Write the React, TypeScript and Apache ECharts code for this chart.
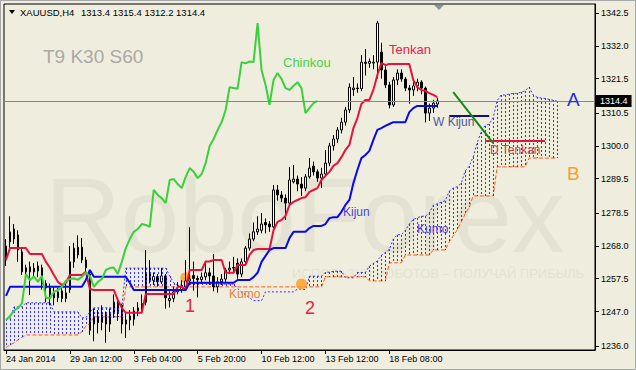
import React, { useEffect, useRef } from 'react';
import * as echarts from 'echarts';

const FONT = '"Liberation Sans", Arial, sans-serif';
const BG = '#efeede';

const SYMBOL = 'XAUUSD,H4';
const BAR_SLOTS = 148;
const X_TICK_STEP = 16;
const xTickLabels = ['24 Jan 2014', '29 Jan 12:00', '3 Feb 04:00', '5 Feb 20:00', '10 Feb 12:00', '13 Feb 12:00', '18 Feb 08:00'];
const yTickValues = [1236.0, 1247.0, 1257.5, 1268.0, 1278.5, 1289.5, 1300.0, 1310.5, 1321.5, 1332.0, 1342.5];
const Y_MIN = 1234.7;
const Y_MAX = 1345.4;
const CHINKOU_SHIFT = 30;

const opens = [
  1263.5, 1269.3, 1270.2, 1271.5, 1266.1, 1259.7, 1261.3, 1259.7, 1260.0, 1261.0,
  1256.0, 1254.6, 1253.0, 1251.4, 1253.6, 1251.2, 1254.0, 1262.9, 1265.1, 1267.6,
  1263.5, 1259.0, 1243.0, 1245.5, 1243.5, 1246.0, 1243.0, 1246.5, 1250.5, 1249.0,
  1243.0, 1244.3, 1244.5, 1247.2, 1247.5, 1250.0, 1259.0, 1257.0, 1258.2, 1256.5,
  1258.4, 1250.5, 1251.2, 1253.3, 1253.9, 1254.9, 1256.8, 1258.5, 1257.6, 1257.2,
  1258.1, 1259.4, 1258.4, 1254.9, 1256.5, 1257.4, 1260.3, 1260.9, 1262.5, 1259.0,
  1262.9, 1267.3, 1270.2, 1272.5, 1273.0, 1275.5, 1275.0, 1274.1, 1285.9, 1284.3,
  1283.3, 1281.7, 1288.5, 1289.4, 1287.8, 1286.5, 1290.1, 1293.5, 1291.7, 1289.7,
  1291.0, 1294.5, 1300.0, 1302.2, 1305.1, 1307.6, 1311.5, 1318.0, 1318.5, 1318.3,
  1326.8, 1326.4, 1326.5, 1326.8, 1330.0, 1324.3, 1319.5, 1313.1, 1321.1, 1323.3,
  1321.4, 1318.5, 1317.9, 1319.2, 1320.4, 1318.5, 1310.5, 1312.1, 1313.4,
];
const highs = [
  1270.2, 1277.5, 1275.0, 1273.0, 1267.0, 1262.0, 1263.0, 1262.5, 1263.0, 1262.0,
  1257.0, 1256.0, 1255.0, 1254.5, 1255.0, 1257.0, 1268.0, 1269.0, 1271.4, 1270.5,
  1264.5, 1260.3, 1248.0, 1247.5, 1249.0, 1247.0, 1248.0, 1252.5, 1251.5, 1249.5,
  1246.5, 1247.5, 1248.5, 1250.0, 1252.5, 1266.7, 1263.5, 1259.5, 1259.0, 1260.9,
  1259.0, 1253.5, 1255.0, 1256.5, 1257.0, 1263.5, 1274.0, 1263.0, 1258.5, 1259.5,
  1263.0, 1261.0, 1265.4, 1258.0, 1259.0, 1261.0, 1263.0, 1264.5, 1264.0, 1264.0,
  1268.0, 1272.0, 1275.5, 1277.5, 1278.5, 1276.8, 1276.0, 1287.5, 1287.5, 1285.5,
  1284.5, 1293.3, 1293.9, 1290.5, 1290.0, 1291.0, 1296.1, 1295.0, 1292.5, 1293.0,
  1298.7, 1301.0, 1303.5, 1306.0, 1309.0, 1312.5, 1320.0, 1322.0, 1320.0, 1329.1,
  1331.0, 1328.0, 1329.0, 1340.0, 1333.0, 1325.5, 1320.5, 1322.0, 1324.5, 1324.5,
  1322.0, 1319.5, 1320.5, 1321.5, 1321.0, 1319.0, 1313.5, 1314.8, 1315.4,
];
const lows = [
  1261.6, 1267.0, 1268.6, 1262.9, 1258.7, 1257.0, 1252.3, 1258.0, 1258.0, 1254.0,
  1250.0, 1249.0, 1249.0, 1250.0, 1250.0, 1250.0, 1253.0, 1261.0, 1264.0, 1262.5,
  1259.5, 1239.5, 1237.5, 1240.0, 1241.0, 1237.0, 1240.5, 1245.0, 1244.0, 1240.0,
  1238.5, 1241.0, 1242.5, 1245.5, 1246.5, 1249.0, 1256.0, 1255.5, 1255.0, 1255.8,
  1247.9, 1248.3, 1250.0, 1252.5, 1253.0, 1254.0, 1255.5, 1253.7, 1251.5, 1256.0,
  1257.0, 1255.5, 1253.5, 1253.0, 1255.5, 1256.5, 1259.0, 1259.5, 1257.5, 1258.0,
  1262.0, 1266.5, 1269.5, 1271.5, 1272.0, 1272.0, 1272.5, 1273.5, 1282.5, 1282.0,
  1276.3, 1281.0, 1288.0, 1285.5, 1284.0, 1285.5, 1289.5, 1290.5, 1288.5, 1286.5,
  1290.0, 1293.5, 1298.5, 1301.0, 1304.0, 1306.5, 1310.5, 1316.0, 1317.0, 1317.5,
  1322.5, 1325.0, 1324.5, 1321.5, 1321.5, 1318.5, 1312.0, 1312.5, 1319.5, 1320.5,
  1317.5, 1313.5, 1316.0, 1317.5, 1316.5, 1307.5, 1308.0, 1310.5, 1312.2,
];
const closes = [
  1268.0, 1272.5, 1273.4, 1266.7, 1259.7, 1261.0, 1259.7, 1260.9, 1261.6, 1255.8,
  1254.6, 1252.5, 1251.4, 1253.3, 1251.2, 1253.0, 1262.9, 1267.3, 1267.6, 1263.5,
  1261.0, 1241.0, 1245.5, 1243.5, 1246.0, 1243.0, 1246.5, 1250.0, 1247.0, 1243.0,
  1244.3, 1245.6, 1247.2, 1248.2, 1249.6, 1259.0, 1257.0, 1258.2, 1256.5, 1258.4,
  1251.4, 1251.2, 1253.3, 1253.9, 1254.9, 1256.8, 1257.4, 1257.6, 1257.2, 1258.1,
  1259.4, 1258.4, 1254.9, 1256.5, 1257.4, 1260.3, 1260.9, 1261.1, 1259.0, 1262.9,
  1267.3, 1270.2, 1272.5, 1273.4, 1275.0, 1274.7, 1274.1, 1285.9, 1284.3, 1283.3,
  1281.7, 1289.1, 1289.4, 1287.8, 1286.5, 1290.1, 1292.9, 1291.7, 1289.7, 1291.0,
  1294.5, 1300.0, 1302.2, 1305.1, 1307.6, 1311.5, 1318.8, 1318.5, 1318.3, 1326.8,
  1326.4, 1327.0, 1326.8, 1339.3, 1324.3, 1319.5, 1313.1, 1321.1, 1323.3, 1321.4,
  1318.5, 1317.9, 1319.2, 1320.4, 1318.5, 1310.5, 1312.1, 1313.7, 1314.4,
];

const tenkan = [
  1263.5, 1267.3, 1267.3, 1267.3, 1267.3, 1267.3, 1265.4, 1265.4, 1265.4, 1265.4,
  1262.9, 1261.0, 1258.7, 1256.5, 1255.5, 1256.2, 1258.7, 1258.7, 1258.7, 1258.7,
  1259.7, 1254.2, 1253.9, 1253.9, 1253.9, 1253.9, 1253.9, 1253.9, 1250.7, 1248.2,
  1246.6, 1246.6, 1246.6, 1246.6, 1246.6, 1252.6, 1252.6, 1252.6, 1252.6, 1252.6,
  1252.6, 1252.6, 1252.6, 1254.9, 1254.9, 1253.9, 1260.3, 1260.3, 1260.3, 1260.3,
  1263.0, 1263.0, 1263.5, 1263.5, 1263.5, 1259.4, 1259.4, 1259.4, 1261.9, 1261.9,
  1261.9, 1265.1, 1266.7, 1267.0, 1267.0, 1267.0, 1267.0, 1273.0, 1275.7, 1276.3,
  1277.6, 1281.1, 1282.1, 1282.7, 1283.3, 1283.6, 1285.3, 1285.9, 1286.5, 1289.1,
  1290.4, 1291.7, 1293.6, 1294.5, 1296.4, 1298.7, 1300.3, 1305.7, 1308.9, 1313.4,
  1314.7, 1314.7, 1317.9, 1322.7, 1326.5, 1325.9, 1326.2, 1326.2, 1326.2, 1326.2,
  1326.2, 1326.2, 1321.1, 1318.8, 1317.9, 1317.6, 1316.9, 1316.3, 1315.6,
];
const kijun = [
  1252.0, 1254.9, 1254.9, 1254.9, 1254.9, 1254.9, 1254.9, 1254.9, 1254.9, 1254.9,
  1254.9, 1254.9, 1254.9, 1254.9, 1254.9, 1254.9, 1254.9, 1254.9, 1254.9, 1254.9,
  1257.1, 1260.3, 1258.1, 1258.1, 1258.1, 1258.1, 1258.1, 1258.1, 1258.1, 1258.1,
  1258.1, 1256.2, 1253.9, 1253.9, 1253.9, 1253.9, 1253.9, 1253.9, 1253.9, 1253.9,
  1253.9, 1253.9, 1253.9, 1253.9, 1253.9, 1253.9, 1256.2, 1256.2, 1256.2, 1256.2,
  1256.2, 1256.2, 1256.2, 1256.2, 1256.2, 1256.2, 1256.2, 1256.2, 1257.1, 1257.1,
  1257.1, 1257.1, 1258.0, 1259.4, 1262.9, 1264.8, 1266.7, 1267.3, 1267.3, 1267.3,
  1267.3, 1270.5, 1272.5, 1272.5, 1272.5, 1272.5, 1273.7, 1274.4, 1274.4, 1274.4,
  1275.0, 1276.9, 1277.2, 1277.2, 1278.9, 1281.1, 1282.7, 1288.1, 1292.3, 1296.1,
  1297.1, 1298.4, 1301.9, 1305.1, 1305.7, 1306.4, 1307.0, 1307.6, 1307.6, 1307.6,
  1307.6, 1310.8, 1312.1, 1312.8, 1312.8, 1312.8, 1312.8, 1312.8, 1312.8,
];
const senkouA = [
  1244.5, 1244.5, 1248.5, 1248.5, 1248.5, 1249.8, 1249.8, 1249.8, 1249.8, 1249.8,
  1249.8, 1249.8, 1246.9, 1246.9, 1246.9, 1246.9, 1246.9, 1246.9, 1246.9, 1245.0,
  1245.0, 1246.9, 1248.2, 1248.2, 1248.2, 1248.2, 1248.2, 1248.2, 1248.2, 1248.2,
  1260.9, 1260.9, 1260.9, 1260.9, 1260.9, 1260.9, 1260.9, 1260.9, 1260.9, 1260.9,
  1260.9, 1258.4, 1256.2, 1255.5, 1255.5, 1256.0, 1256.0, 1256.0, 1256.0, 1256.0,
  1256.0, 1256.0, 1255.8, 1255.8, 1255.8, 1255.8, 1255.8, 1255.8, 1254.4, 1253.2,
  1252.4, 1251.4, 1250.5, 1250.5, 1250.5, 1253.3, 1253.3, 1253.3, 1253.3, 1253.3,
  1253.3, 1253.3, 1253.3, 1254.2, 1254.2, 1254.0, 1258.3, 1258.3, 1258.3, 1258.3,
  1259.6, 1259.6, 1259.9, 1259.9, 1259.9, 1257.8, 1257.8, 1257.8, 1259.5, 1259.5,
  1259.5, 1261.5, 1262.4, 1263.2, 1265.0, 1265.9, 1266.9, 1270.2, 1271.6, 1271.6,
  1273.0, 1275.0, 1276.5, 1277.0, 1277.5, 1277.5, 1278.5, 1281.0, 1281.5, 1282.0,
  1282.5, 1285.5, 1286.5, 1287.0, 1288.0, 1292.0, 1293.5, 1296.5, 1301.0, 1304.5,
  1306.5, 1307.0, 1309.0, 1314.5, 1316.3, 1316.3, 1316.6, 1316.8, 1316.8, 1317.2,
  1317.6, 1318.8, 1316.3, 1315.6, 1315.3, 1315.2, 1314.9, 1314.6, 1314.3,
];
const senkouB = [
  1235.5, 1236.3, 1237.0, 1237.9, 1238.8, 1239.5, 1239.5, 1239.5, 1239.5, 1239.5,
  1239.5, 1239.5, 1239.5, 1239.5, 1239.5, 1239.5, 1239.5, 1239.5, 1239.5, 1240.5,
  1242.4, 1243.0, 1245.3, 1245.3, 1245.3, 1245.3, 1245.3, 1245.3, 1245.3, 1245.3,
  1254.9, 1254.9, 1254.9, 1254.9, 1254.9, 1254.9, 1254.9, 1254.9, 1254.9, 1254.9,
  1254.9, 1254.9, 1254.9, 1254.9, 1254.9, 1254.9, 1254.9, 1254.9, 1254.9, 1254.9,
  1254.9, 1254.9, 1254.9, 1254.9, 1254.9, 1254.9, 1254.9, 1254.9, 1254.9, 1254.9,
  1254.9, 1254.9, 1254.9, 1254.9, 1254.9, 1254.9, 1254.9, 1254.9, 1254.9, 1254.9,
  1254.9, 1254.9, 1254.9, 1254.9, 1254.9, 1254.9, 1254.9, 1254.9, 1254.9, 1254.9,
  1258.1, 1258.1, 1258.1, 1258.1, 1258.1, 1258.1, 1258.1, 1258.1, 1258.1, 1258.1,
  1258.1, 1256.8, 1256.8, 1256.8, 1256.8, 1256.8, 1262.6, 1262.6, 1262.6, 1262.6,
  1265.1, 1265.1, 1265.1, 1265.1, 1265.1, 1265.1, 1265.1, 1266.7, 1266.7, 1266.7,
  1266.7, 1269.3, 1271.2, 1273.1, 1275.7, 1278.2, 1280.5, 1284.0, 1284.0, 1284.0,
  1284.0, 1284.0, 1284.0, 1293.3, 1293.3, 1293.3, 1293.3, 1293.3, 1293.3, 1293.3,
  1293.3, 1296.1, 1296.1, 1296.1, 1296.1, 1296.1, 1296.1, 1296.1, 1296.1,
];

// hand-drawn objects: [barIndex, price]
const wKijunLine = [[111, 1309.6], [121, 1309.6]];
const dTenkanLine = [[120, 1301.6], [135, 1301.6]];
const trendLine = [[112, 1317.2], [122, 1300.9]];
const signal1 = [[45, 1257.8]];
const signal2 = [[74, 1255.8]];

export default function App() {
  const ref = useRef<HTMLDivElement>(null);
  useEffect(() => {
    const chart = echarts.init(ref.current as HTMLDivElement, null, { renderer: 'svg' });
    const categories = Array.from({ length: BAR_SLOTS }, (_, i) => String(i));
    const candleData = opens.map((o, i) => [o, closes[i], lows[i], highs[i]]);
    const chinkou = closes.slice(CHINKOU_SHIFT);
    const hatch = senkouA.map((a, i) => [i, a, senkouB[i]]).filter((d) => d[1] > d[2]);
    const last = closes.length - 1;
    const lastClose = closes[last];
    const showTick = (idx: number) => idx % X_TICK_STEP === 0 && idx / X_TICK_STEP < xTickLabels.length;
    const txt = (text: string, x: number, y: number, size: number, fill: string, z = 100) => ({
      type: 'text', x, y, z, silent: true,
      style: { text, fill, fontSize: size, fontFamily: FONT, verticalAlign: 'middle', align: 'left' },
    });
    const lineSeries = (data: any, color: string, width: number, z: number, type: any = 'solid') => ({
      type: 'line', data, symbol: 'none', silent: true, z,
      lineStyle: { color, width, type }, emphasis: { disabled: true },
    });

    chart.setOption({
      animation: false,
      backgroundColor: BG,
      grid: { left: 4, top: 4, width: 591, height: 346, show: true, borderColor: '#000', borderWidth: 1 },
      xAxis: {
        type: 'category', data: categories, boundaryGap: true,
        axisLine: { show: true, lineStyle: { color: '#000' } },
        axisTick: { show: true, interval: (i: number) => showTick(i), alignWithLabel: true, length: 4, lineStyle: { color: '#000' } },
        axisLabel: {
          interval: (i: number) => showTick(i),
          formatter: (v: string) => xTickLabels[Number(v) / X_TICK_STEP] ?? '',
          align: 'left', color: '#000', fontSize: 9, fontFamily: FONT, margin: 4,
        },
        splitLine: { show: false },
      },
      yAxis: {
        type: 'value', position: 'right', min: Y_MIN, max: Y_MAX,
        axisLine: { show: true, lineStyle: { color: '#000' } },
        axisTick: { show: true, customValues: yTickValues, length: 4, lineStyle: { color: '#000' } },
        axisLabel: { customValues: yTickValues, formatter: (v: number) => v.toFixed(1), color: '#000', fontSize: 9, fontFamily: FONT, margin: 6 },
        splitLine: { show: false },
      },
      series: [
        {
          type: 'custom', data: hatch, z: 3.5, silent: true, encode: { x: 0, y: [1, 2] },
          itemStyle: { color: '#3030ff' },
          renderItem: (params: any, api: any) => {
            const top = api.coord([api.value(0), api.value(1)]);
            const bot = api.coord([api.value(0), api.value(2)]);
            const x = Math.round(top[0]);
            const y1 = Math.round(top[1]);
            const y2 = Math.round(bot[1]);
            const dots = [];
            for (let y = y1; y < y2; y += 4) {
              dots.push({ type: 'rect', shape: { x, y, width: 1, height: Math.min(2, y2 - y) }, style: { fill: '#3030ff' } });
            }
            return { type: 'group', children: dots };
          },
        },
        lineSeries(senkouA, '#3030ff', 1, 2, [2, 2]),
        lineSeries(senkouB, '#ff5a14', 1, 2, [4, 2]),
        { type: 'scatter', data: signal1, symbolSize: 11, z: 2, silent: true, itemStyle: { color: '#ff9a1e' } },
        {
          type: 'candlestick', data: candleData, barWidth: 2, z: 3, silent: true,
          itemStyle: { color: '#ffffff', color0: '#000000', borderColor: '#000000', borderColor0: '#000000', borderWidth: 1 },
          markLine: {
            silent: true, symbol: ['none', 'none'], animation: false,
            data: [{ yAxis: lastClose }],
            lineStyle: { color: '#808a93', width: 1, type: 'solid' },
            label: {
              show: true, position: 'end', distance: 1, formatter: lastClose.toFixed(1),
              backgroundColor: '#000', color: '#fff', fontSize: 9, fontFamily: FONT, padding: [2, 4, 1, 4],
            },
          },
        },
        lineSeries(tenkan, '#e6143c', 2, 4),
        lineSeries(kijun, '#0a0ae6', 2, 4),
        lineSeries(chinkou, '#3ccf3c', 2, 4),
        { type: 'scatter', data: signal2, symbolSize: 11, z: 5, silent: true, itemStyle: { color: '#ff9a1e' } },
        lineSeries(wKijunLine, '#10107a', 2, 5),
        lineSeries(dTenkanLine, '#e6143c', 2, 5),
        lineSeries(trendLine, '#138a13', 2, 5),
      ],
      graphic: {
        elements: [
          { type: 'rect', z: 0, silent: true, shape: { x: 0.5, y: 0.5, width: 635, height: 369 }, style: { fill: 'none', stroke: '#a8a8a8', lineWidth: 1 } },
          { ...txt('RoboForex', 45, 215, 105, '#e4e3d3', 0) },
          { ...txt('ИСПОЛЬЗУЙ РОБОТОВ – ПОЛУЧАЙ ПРИБЫЛЬ', 292, 273, 13, '#e3e2d2', 0) },
          { type: 'polygon', z: 100, silent: true, shape: { points: [[9, 10], [15, 10], [12, 14]] }, style: { fill: '#000' } },
          txt(SYMBOL, 20, 12, 9.5, '#000'),
          txt([opens[last], highs[last], lows[last], closes[last]].map((v) => v.toFixed(1)).join(' '), 81, 12, 9.5, '#000'),
          { type: 'polygon', z: 100, silent: true, shape: { points: [[434, 5], [444, 5], [439, 10]] }, style: { fill: '#8896a0' } },
          txt('T9 K30 S60', 43, 56, 19, '#a9a9a6'),
          txt('Chinkou', 283, 62, 13, '#46d246'),
          txt('Tenkan', 389, 49, 13, '#e6204a'),
          txt('Kijun', 343, 212, 12, '#4a3fdc'),
          txt('Kumo', 417, 229, 12, '#4a3fdc'),
          txt('Kumo', 229, 294, 12, '#f07c3c'),
          txt('W Kijun', 433, 122, 12, '#52559e'),
          txt('D Tenkan', 490, 150, 12, '#c04848'),
          txt('A', 567, 99, 19, '#2a2ae0'),
          txt('B', 567, 173, 19, '#f5a02a'),
          txt('1', 185, 306, 18, '#e6204a'),
          txt('2', 305, 308, 18, '#e6204a'),
        ],
      },
    });
    return () => chart.dispose();
  }, []);
  return <div ref={ref} style={{ position: 'absolute', left: 0, top: 0, width: 636, height: 370, background: BG }} />;
}
